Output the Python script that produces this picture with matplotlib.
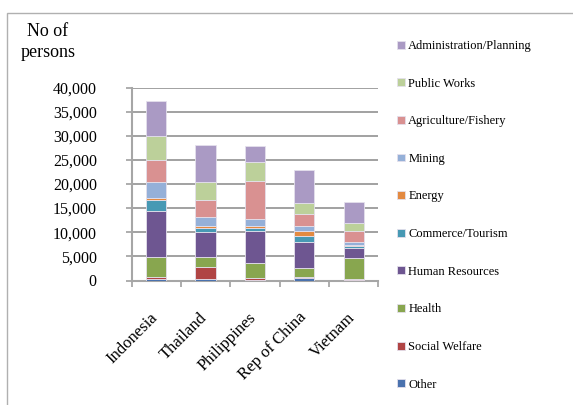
import matplotlib
matplotlib.use('Agg')
import matplotlib.pyplot as plt
import matplotlib.transforms as mtransforms
import numpy as np
from matplotlib.patches import Rectangle

countries = ['Indonesia', 'Thailand', 'Philippines', 'Rep of China', 'Vietnam']

# stacked from bottom to top
sectors = ['Other', 'Social Welfare', 'Health', 'Human Resources', 'Commerce/Tourism',
           'Energy', 'Mining', 'Agriculture/Fishery', 'Public Works', 'Administration/Planning']

other = [300, 300, 100, 500, 100]
social_welfare = [400, 2400, 500, 300, 300]
health = [4200, 2100, 3100, 1800, 4300]
human_resources = [9600, 5200, 6600, 5300, 2100]
commerce_tourism = [2200, 900, 600, 1300, 400]
energy = [400, 350, 350, 1050, 200]
mining = [3400, 1900, 1400, 1050, 600]
agriculture = [4500, 3450, 8050, 2500, 2200]
public_works = [4900, 3800, 3950, 2350, 1650]
administration = [7300, 7650, 3250, 6800, 4450]

series = [other, social_welfare, health, human_resources, commerce_tourism,
          energy, mining, agriculture, public_works, administration]

colors = ['#4a72ae', '#b04444', '#88a64f', '#6e5691', '#4799b4',
          '#e38a41', '#95b0d8', '#d99191', '#bcd09a', '#aa9ac4']

y_ticks = [0, 5000, 10000, 15000, 20000, 25000, 30000, 35000, 40000]

plt.rcParams['font.family'] = ['Liberation Serif', 'DejaVu Serif']

fig = plt.figure(figsize=(5.73, 4.05), dpi=100)
ax = fig.add_axes([131.5 / 573, 1 - 280.5 / 405, 246.8 / 573, 193 / 405])

x = np.arange(len(countries))
bottom = np.zeros(len(countries))
handles = []
for vals, col, name in zip(series, colors, sectors):
    b = ax.bar(x, vals, width=0.41, bottom=bottom, color=col, label=name,
               edgecolor='#e4e0ec', linewidth=0.6, zorder=3)
    handles.append(b)
    bottom += np.array(vals)

ax.set_xlim(-0.5, len(countries) - 0.5)
ax.set_ylim(0, 40000)
ax.set_yticks(y_ticks)
ax.set_yticklabels([f'{v:,}' for v in y_ticks], fontsize=11.5)
ax.yaxis.grid(True, color='#9a9a9a', linewidth=1.3, zorder=0)
ax.set_axisbelow(True)

ax.set_xticks(x)
ax.set_xticklabels(countries, rotation=45, ha='right', fontsize=12)
ax.set_xticks(np.arange(-0.5, len(countries)), minor=True)
ax.tick_params(axis='x', which='major', length=0, pad=18)
ax.tick_params(axis='x', which='minor', length=4, color='#a0a0a0', width=1.2)
ax.tick_params(axis='y', length=4, color='#a0a0a0', width=1.2, pad=21)

# nudge the rotated country names a little right/down
shift = mtransforms.ScaledTranslation(5 / 100, -4 / 100, fig.dpi_scale_trans)
for lbl in ax.get_xticklabels():
    lbl.set_transform(lbl.get_transform() + shift)

for s in ['top', 'right']:
    ax.spines[s].set_visible(False)
for s in ['left', 'bottom']:
    ax.spines[s].set_color('#a6a6a6')
    ax.spines[s].set_linewidth(1.5)

fig.text(48 / 573, 1 - 42 / 405, 'No of\npersons', ha='center', va='center',
         fontsize=13, linespacing=1.25)

leg = fig.legend(handles[::-1], sectors[::-1], loc='upper left',
                 bbox_to_anchor=(397 / 573, 1 - 40 / 405), frameon=False,
                 fontsize=9, handlelength=0.6, handleheight=0.6,
                 handletextpad=0.3, labelspacing=2.05, borderpad=0, borderaxespad=0)

fig.patches.append(Rectangle((7 / 573, -0.1), 1.2, 1 - 13 / 405 + 0.1,
                             transform=fig.transFigure, fill=False,
                             edgecolor='#b0b0b0', linewidth=1.0))

fig.savefig('out.png', dpi=100)
